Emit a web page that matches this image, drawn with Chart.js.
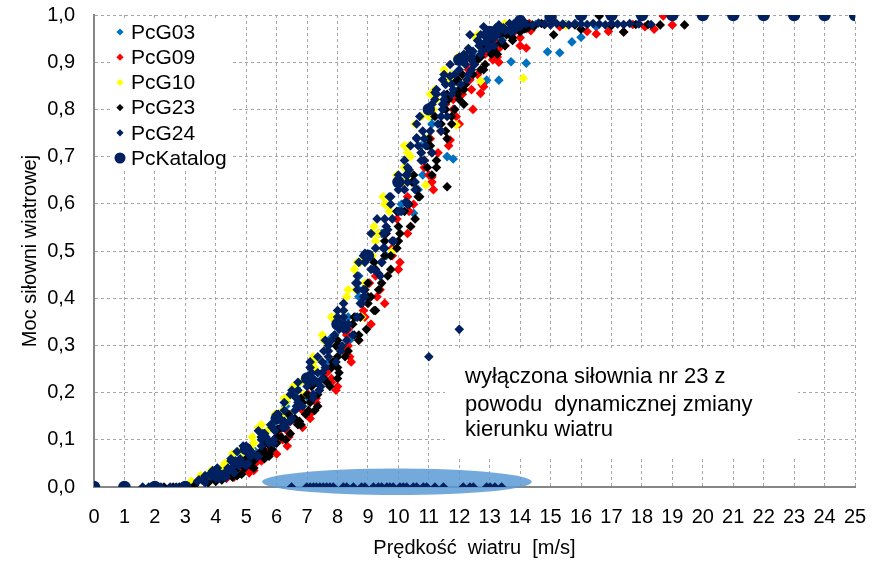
<!DOCTYPE html>
<html>
<head>
<meta charset="utf-8">
<script src="https://cdn.jsdelivr.net/npm/chart.js@4/dist/chart.umd.min.js"></script>
<style>
  html, body { margin: 0; padding: 0; background: #ffffff; }
  #wrap { width: 879px; height: 561px; }
</style>
</head>
<body>
<div id="wrap"><canvas id="c" width="879" height="561"></canvas></div>
<script>
// ---------------- DATA ----------------
const seriesNames = ['PcG03', 'PcG09', 'PcG10', 'PcG23', 'PcG24', 'PcKatalog'];

const pcG03 = [
  [3.9,0.018],[3.9,0.027],[4.8,0.040],[4.65,0.055],[5.25,0.070],[5.85,0.087],[5.5,0.106],[6.2,0.126],
  [6.3,0.145],[6.3,0.171],[7.2,0.196],[7.05,0.222],[7.65,0.253],[8.25,0.288],[7.9,0.322],[8.6,0.360],
  [8.7,0.403],[8.7,0.447],[9.6,0.490],[9.45,0.537],[10.05,0.584],[10.65,0.630],[10.3,0.677],[11.0,0.723],
  [11.1,0.769],[11.1,0.811],[12.0,0.842],[11.85,0.874],[12.45,0.905],[13.05,0.923],[12.7,0.940],[13.4,0.958],
  [13.5,0.969],[13.5,0.976],
  [3.9,0.021],[4.65,0.035],[4.55,0.055],[5.3,0.075],[6.0,0.100],[5.95,0.126],[6.3,0.154],[7.05,0.188],
  [6.95,0.222],[7.7,0.265],[8.4,0.311],[8.35,0.360],[8.7,0.418],[9.45,0.476],[9.35,0.537],[10.1,0.599],
  [10.8,0.661],[10.75,0.723],[11.1,0.785],[11.85,0.832],[11.75,0.874],[12.5,0.911],[13.2,0.935],[13.15,0.958],
  [13.5,0.971],
  [11.6,0.700],[11.8,0.695],[12.9,0.862],[13.3,0.862],[13.7,0.901],[14.2,0.898],[14.9,0.922],[15.3,0.920],
  [15.7,0.943],[16.0,0.953],[10.5,0.580],[6.3,0.180],[6.65,0.210],[4.6,0.057],[7.8,0.316],
  [14.5,0.980],[15.5,0.980],[16.5,0.975],[17.0,0.980]
];

const pcG09 = [
  [4.35,0.018],[4.3,0.024],[5.1,0.030],[4.85,0.040],[5.3,0.050],[5.05,0.060],[6.0,0.070],[5.8,0.080],
  [5.8,0.093],[6.4,0.106],[6.35,0.119],[6.3,0.132],[7.1,0.145],[6.85,0.162],[7.3,0.179],[7.05,0.196],
  [8.0,0.213],[7.8,0.230],[7.8,0.253],[8.4,0.276],[8.35,0.299],[8.3,0.322],[9.1,0.345],[8.85,0.374],
  [9.3,0.403],[9.05,0.432],[10.0,0.461],[9.8,0.490],[9.8,0.521],[10.4,0.552],[10.35,0.584],[10.3,0.615],
  [11.1,0.646],[10.85,0.677],[11.3,0.708],[11.05,0.738],[12.0,0.769],[11.8,0.800],[11.8,0.821],[12.4,0.842],
  [12.35,0.863],[12.3,0.884],[13.1,0.905],[12.85,0.917],[13.3,0.929],[13.05,0.940],[14.0,0.952],[13.8,0.964],
  [13.8,0.969],[14.4,0.973],[14.35,0.978],[14.3,0.982],
  [4.6,0.021],[4.45,0.027],[5.25,0.035],[5.0,0.045],[5.5,0.055],[5.15,0.065],[5.7,0.075],[6.35,0.087],
  [6.2,0.100],[6.05,0.113],[6.85,0.126],[6.6,0.139],[7.1,0.154],[6.75,0.171],[7.3,0.188],[7.95,0.205],
  [7.8,0.222],[7.65,0.242],[8.45,0.265],[8.2,0.288],[8.7,0.311],[8.35,0.334],[8.9,0.360],[9.55,0.389],
  [9.4,0.418],[9.25,0.447],[10.05,0.476],[9.8,0.506],[10.3,0.537],[9.95,0.568],[10.5,0.599],[11.15,0.630],
  [11.0,0.661],[10.85,0.692],[11.65,0.723],[11.4,0.754],[11.9,0.785],[11.55,0.811],[12.1,0.832],[12.75,0.853],
  [12.6,0.874],[12.45,0.895],[13.25,0.911],[13.0,0.923],[13.5,0.935],[13.15,0.946],[13.7,0.958],[14.35,0.967],
  [14.2,0.971],[14.05,0.976],
  [11.1,0.657],[12.45,0.800],[11.7,0.735],[12.7,0.834],[12.8,0.848],[13.3,0.900],[14.2,0.930],[14.0,0.935],
  [14.8,0.980],[15.3,0.975],[15.8,0.980],[16.2,0.965],[16.5,0.960],[16.9,0.965],[17.4,0.964],[17.7,0.980],
  [18.1,0.975],[18.4,0.970],[18.7,0.998],[19.0,0.979]
];

const pcG10 = [
  [3.2,0.012],[3.7,0.018],[3.5,0.024],[4.2,0.030],[4.2,0.040],[4.3,0.050],[4.9,0.060],[4.55,0.070],
  [5.15,0.080],[5.25,0.093],[5.2,0.106],[5.7,0.119],[5.5,0.132],[6.2,0.145],[6.2,0.162],[6.3,0.179],
  [6.9,0.196],[6.55,0.213],[7.15,0.230],[7.25,0.253],[7.2,0.276],[7.7,0.299],[7.5,0.322],[8.2,0.345],
  [8.2,0.374],[8.3,0.403],[8.9,0.432],[8.55,0.461],[9.15,0.490],[9.25,0.521],[9.2,0.552],[9.7,0.584],
  [9.5,0.615],[10.2,0.646],[10.2,0.677],[10.3,0.708],[10.9,0.738],[10.55,0.769],[11.15,0.800],[11.25,0.821],
  [11.2,0.842],[11.7,0.863],[11.5,0.884],[12.2,0.905],[12.2,0.917],[12.3,0.929],[12.9,0.940],[12.55,0.952],
  [13.15,0.964],[13.25,0.969],[13.2,0.973],[13.7,0.978],[13.5,0.982],
  [5.95,0.154],[6.35,0.188],[6.75,0.222],[7.15,0.265],[7.55,0.311],[7.95,0.360],[8.35,0.418],[8.75,0.476],
  [9.15,0.537],[9.55,0.599],[9.95,0.661],[10.35,0.723],[10.75,0.785],[11.15,0.832],[11.55,0.874],[11.95,0.911],
  [3.85,0.035],[4.55,0.055],[4.8,0.075],[5.55,0.100],[5.4,0.126],[6.2,0.154],[6.25,0.188],[6.95,0.222],
  [7.2,0.265],[7.95,0.311],[7.8,0.360],[8.6,0.418],[8.65,0.476],[9.35,0.537],[9.6,0.599],[10.35,0.661],
  [10.2,0.723],[11.0,0.785],[11.05,0.832],[11.75,0.874],[12.0,0.911],[12.75,0.935],[12.6,0.958],[13.4,0.971],
  [14.0,0.982],[14.4,0.980],[15.0,0.982],[15.5,0.978],[14.1,0.866],
  [11.9,0.767],[10.9,0.640],[9.8,0.500],[8.8,0.360],[12.7,0.860],[10.4,0.700]
];

const pcG23 = [
  [4.0,0.012],[3.95,0.018],[4.7,0.024],[4.5,0.030],[5.25,0.040],[5.1,0.050],[5.0,0.060],[5.75,0.070],
  [5.55,0.080],[6.0,0.093],[6.0,0.106],[5.95,0.119],[6.7,0.132],[6.5,0.145],[7.25,0.162],[7.1,0.179],
  [7.0,0.196],[7.75,0.213],[7.55,0.230],[8.0,0.253],[8.0,0.276],[7.95,0.299],[8.7,0.322],[8.5,0.345],
  [9.25,0.374],[9.1,0.403],[9.0,0.432],[9.75,0.461],[9.55,0.490],[10.0,0.521],[10.0,0.552],[9.95,0.584],
  [10.7,0.615],[10.5,0.646],[11.25,0.677],[11.1,0.708],[11.0,0.738],[11.75,0.769],[11.55,0.800],[12.0,0.821],
  [12.0,0.842],[11.95,0.863],[12.7,0.884],[12.5,0.905],[13.25,0.917],[13.1,0.929],[13.0,0.940],[13.75,0.952],
  [13.55,0.964],[14.0,0.969],[14.0,0.973],[13.95,0.978],[14.7,0.982],
  [3.75,0.009],[4.55,0.021],[4.4,0.035],[5.25,0.055],[5.5,0.075],[6.3,0.100],[6.15,0.126],[6.95,0.154],
  [6.8,0.188],[7.65,0.222],[7.9,0.265],[8.7,0.311],[8.55,0.360],[9.35,0.418],[9.2,0.476],[10.05,0.537],
  [10.3,0.599],[11.1,0.661],[10.95,0.723],[11.75,0.785],[11.6,0.832],[12.45,0.874],[12.7,0.911],[13.5,0.935],
  [13.35,0.958],[14.15,0.971],[14.0,0.980],
  [4.2,0.015],[4.1,0.021],[4.85,0.027],[4.65,0.035],[5.15,0.045],[4.8,0.055],[5.75,0.065],[5.55,0.075],
  [5.8,0.087],[5.7,0.100],[6.45,0.113],[6.25,0.126],[6.75,0.139],[6.4,0.154],[7.35,0.171],[7.15,0.188],
  [7.4,0.205],[7.3,0.222],[8.05,0.242],[7.85,0.265],[8.35,0.288],[8.0,0.311],[8.95,0.334],[8.75,0.360],
  [9.0,0.389],[8.9,0.418],[9.65,0.447],[9.45,0.476],[9.95,0.506],[9.6,0.537],[10.55,0.568],[10.35,0.599],
  [10.6,0.630],[10.5,0.661],[11.25,0.692],[11.05,0.723],[11.55,0.754],[11.2,0.785],[12.15,0.811],[11.95,0.832],
  [12.2,0.853],[12.1,0.874],[12.85,0.895],[12.65,0.911],[13.15,0.923],[12.8,0.935],[13.75,0.946],[13.55,0.958],
  [13.8,0.967],[13.7,0.971],[14.45,0.976],[14.25,0.980],
  [4.45,0.030],[4.95,0.040],[4.75,0.050],[5.6,0.060],[5.4,0.070],[5.85,0.080],[5.65,0.093],[6.15,0.106],
  [6.05,0.122],[6.8,0.132],[6.6,0.145],[7.05,0.162],[6.85,0.179],[7.35,0.196],[7.15,0.213],[8.0,0.230],
  [7.8,0.253],[8.25,0.276],[8.05,0.299],[8.55,0.322],[8.35,0.345],[9.2,0.374],[9.0,0.403],[9.45,0.432],
  [9.25,0.461],[9.75,0.490],[9.55,0.521],[10.4,0.552],[10.2,0.584],[10.65,0.615],[10.45,0.646],[10.95,0.677],
  [10.75,0.708],[11.6,0.738],[11.4,0.769],[11.85,0.800],[11.65,0.821],[12.15,0.842],[11.9,0.860],[12.8,0.884],
  [12.6,0.905],[13.05,0.917],[12.85,0.929],[13.35,0.940],[13.15,0.952],[14.0,0.964],[13.8,0.969],[14.25,0.973],
  [11.6,0.636],[1.9,0],[2.3,0],[2.6,0],[2.8,0],[3.1,0],[3.3,0.003],
  [14.3,0.978],[14.8,0.980],[15.1,0.958],[15.4,0.980],[15.8,0.979],[16.0,0.970],[16.6,0.998],[17.0,0.978],
  [17.4,0.964],[17.8,0.980],[18.2,0.980],[18.6,0.979],[19.4,0.979]
];

const pcG24 = [
  [3.4,0.012],[4.0,0.018],[3.65,0.024],[4.6,0.030],[4.4,0.040],[4.9,0.050],[4.5,0.060],[5.1,0.070],
  [5.1,0.080],[5.9,0.093],[5.65,0.106],[5.4,0.119],[6.25,0.132],[6.0,0.145],[6.6,0.162],[6.25,0.179],
  [7.2,0.196],[7.0,0.213],[7.5,0.230],[7.1,0.253],[7.7,0.276],[7.7,0.299],[8.5,0.322],[8.25,0.345],
  [8.0,0.374],[8.85,0.403],[8.6,0.432],[9.2,0.461],[8.85,0.490],[9.8,0.521],[9.6,0.552],[10.1,0.584],
  [9.7,0.615],[10.3,0.646],[10.3,0.677],[11.1,0.708],[10.85,0.738],[10.6,0.769],[11.45,0.800],[11.2,0.821],
  [11.8,0.842],[11.45,0.863],[12.4,0.884],[12.2,0.905],[12.7,0.917],[12.3,0.929],[12.9,0.940],[12.9,0.952],
  [13.7,0.964],[13.45,0.969],[13.2,0.973],[14.05,0.978],[13.8,0.982],
  [3.65,0.009],[3.45,0.015],[4.25,0.021],[4.05,0.027],[3.9,0.035],[4.6,0.045],[4.55,0.055],[5.35,0.065],
  [5.1,0.075],[5.0,0.087],[5.7,0.100],[5.6,0.113],[6.2,0.126],[6.25,0.139],[6.05,0.154],[6.85,0.171],
  [6.65,0.188],[6.5,0.205],[7.2,0.222],[7.15,0.242],[7.95,0.265],[7.7,0.288],[7.6,0.311],[8.3,0.334],
  [8.2,0.360],[8.8,0.389],[8.85,0.418],[8.65,0.447],[9.45,0.476],[9.25,0.506],[9.1,0.537],[9.8,0.568],
  [9.75,0.599],[10.55,0.630],[10.3,0.661],[10.2,0.692],[10.9,0.723],[10.8,0.754],[11.4,0.785],[11.45,0.811],
  [11.25,0.832],[12.05,0.853],[11.85,0.874],[11.7,0.895],[12.4,0.911],[12.35,0.923],[13.15,0.935],[12.9,0.946],
  [12.8,0.958],[13.5,0.967],[13.4,0.971],[14.0,0.976],[14.05,0.980],
  [3.65,0.015],[4.3,0.021],[3.8,0.027],[4.45,0.035],[5.0,0.045],[4.5,0.055],[5.15,0.065],[5.15,0.075],
  [4.9,0.087],[5.9,0.100],[5.6,0.113],[5.85,0.126],[6.45,0.139],[6.0,0.154],[6.65,0.171],[7.2,0.188],
  [6.7,0.205],[7.35,0.222],[7.35,0.242],[7.1,0.265],[8.1,0.288],[7.8,0.311],[8.05,0.334],[8.65,0.360],
  [8.2,0.389],[8.85,0.418],[9.4,0.447],[8.9,0.476],[9.55,0.506],[9.55,0.537],[9.3,0.568],[10.3,0.599],
  [10.0,0.630],[10.25,0.661],[10.85,0.692],[10.4,0.723],[11.05,0.754],[11.6,0.785],[11.1,0.811],[11.75,0.832],
  [11.75,0.853],[11.5,0.874],[12.5,0.895],[12.2,0.911],[12.45,0.923],[13.05,0.935],[12.6,0.946],[13.25,0.958],
  [13.8,0.967],[13.3,0.971],[13.95,0.976],[13.95,0.980],
  [4.1,0.018],[3.85,0.024],[4.3,0.030],[4.05,0.040],[5.05,0.050],[4.8,0.060],[5.2,0.070],[4.95,0.080],
  [5.75,0.093],[5.5,0.106],[5.95,0.119],[5.8,0.132],[6.5,0.145],[6.25,0.162],[6.7,0.179],[6.45,0.196],
  [7.45,0.213],[7.2,0.230],[7.6,0.253],[7.35,0.276],[8.15,0.299],[7.9,0.322],[8.35,0.345],[8.2,0.374],
  [8.9,0.403],[8.65,0.432],[9.1,0.461],[8.9,0.495],[9.85,0.521],[9.65,0.545],[10.0,0.584],[9.75,0.615],
  [10.55,0.646],[10.35,0.672],[10.75,0.708],[10.6,0.738],[11.3,0.769],[11.05,0.800],[11.5,0.821],[11.25,0.842],
  [12.25,0.863],[12.0,0.884],[12.4,0.905],[12.15,0.917],[12.95,0.929],[12.7,0.940],[13.15,0.952],[13.0,0.964],
  [13.7,0.969],[13.45,0.973],[13.9,0.978],[13.65,0.982],
  [3.55,0.015],[4.35,0.021],[4.2,0.027],[4.0,0.035],[4.75,0.045],[4.65,0.055],[5.4,0.065],[4.7,0.075],
  [5.5,0.087],[5.5,0.100],[5.55,0.113],[6.3,0.126],[6.2,0.139],[6.05,0.150],[6.75,0.171],[6.6,0.192],
  [7.4,0.205],[6.7,0.222],[7.5,0.242],[7.5,0.265],[7.55,0.288],[8.3,0.311],[8.2,0.334],[8.0,0.360],
  [8.75,0.389],[8.65,0.418],[9.35,0.452],[8.7,0.476],[9.5,0.506],[9.5,0.537],[9.55,0.568],[10.25,0.605],
  [10.2,0.630],[10.0,0.661],[10.75,0.692],[10.65,0.723],[11.4,0.754],[10.7,0.785],[11.5,0.811],[11.5,0.832],
  [11.55,0.853],[12.3,0.874],[12.2,0.895],[12.0,0.911],[12.75,0.923],[12.65,0.935],[13.4,0.946],[12.7,0.958],
  [13.5,0.967],[13.5,0.971],
  [12.35,0.958],[11.7,0.870],[11.2,0.836],[13.3,0.979],[12.8,0.975],[10.6,0.740],
  [14.2,0.981],[14.4,0.979],[14.6,0.983],[14.8,0.981],[15.0,0.979],[15.2,0.982],[15.4,0.981],[15.6,0.979],
  [15.8,0.982],[16.0,0.981],[16.2,0.980],[16.4,0.982],[16.6,0.981],[16.8,0.979],[17.0,0.982],[17.2,0.981],
  [17.4,0.980],[17.6,0.982],[17.9,0.981],[18.3,0.980],
  [1.6,0],[1.8,0],[2.0,0],[2.2,0],[2.5,0],[2.7,0],[2.9,0],
  [11.0,0.276],[12.0,0.334],
  [6.49,0],[6.99,0],[7.10,0],[7.21,0],[7.31,0],[7.42,0],[7.53,0],[7.64,0],[7.75,0],[7.86,0],
  [8.19,0],[8.30,0],[8.52,0],[8.79,0],[8.90,0],[9.18,0],[9.34,0],[9.45,0],[9.62,0],[9.72,0],
  [9.83,0],[10.05,0],[10.16,0],[10.27,0],[10.49,0],[10.60,0],[10.82,0],[10.93,0],[11.20,0],[11.48,0],
  [12.13,0],[12.35,0],[12.46,0],[12.90,0],[13.01,0],[13.17,0],[13.39,0]
];

const pcKatalogX = [0,1,2,3,4,5,6,7,8,9,10,11,12,13,14,15,16,17,18,19,20,21,22,23,24,25];
const pcKatalogY = [0,0,0,0,0.03,0.08,0.145,0.23,0.345,0.49,0.646,0.80,0.905,0.964,0.987,0.996,1,1,1,1,1,1,1,1,1,1];

const xTicks = [0,1,2,3,4,5,6,7,8,9,10,11,12,13,14,15,16,17,18,19,20,21,22,23,24,25];
const yTickLabels = ['0,0','0,1','0,2','0,3','0,4','0,5','0,6','0,7','0,8','0,9','1,0'];

const xTitle = 'Prędkość  wiatru  [m/s]';
const yTitle = 'Moc siłowni wiatrowej';
const noteLines = ['wyłączona siłownia nr 23 z', 'powodu  dynamicznej zmiany', 'kierunku wiatru'];

// ---------------- STYLE / LAYOUT ----------------
const colors = ['#0070C0', '#FF0000', '#FFFF00', '#000000', '#002060', '#002060'];
const FONT = "'Liberation Sans', Arial, sans-serif";

// annotation placement in data units
const noteBox = { x0: 11.53, x1: 23.13, y0: 0.064, y1: 0.292 };
const noteText = { x: 12.19, y: [0.233, 0.174, 0.121] };
const ellipse = { cx: 9.95, cy: 0.011, rx: 4.43, ry: 0.028 };

const toPts = arr => arr.map(p => ({ x: p[0], y: p[1] }));
const katalogPts = pcKatalogX.map((x, i) => ({ x: x, y: pcKatalogY[i] }));
const seriesData = [pcG03, pcG09, pcG10, pcG23, pcG24].map(toPts).concat([katalogPts]);

const datasets = seriesNames.map((name, i) => ({
  label: name,
  data: seriesData[i],
  showLine: false,
  backgroundColor: colors[i],
  borderColor: colors[i],
  pointStyle: i === 5 ? 'circle' : 'rectRot',
  pointRadius: i === 5 ? 6.2 : 4.8,
  pointBorderWidth: 0,
  pointHoverRadius: i === 5 ? 6.2 : 4.8,
  order: 6 - i
}));

const bgPlugin = {
  id: 'bgAnnot',
  beforeDatasetsDraw(chart) {
    const { ctx, scales: { x, y }, chartArea: ca } = chart;
    ctx.save();
    ctx.fillStyle = '#ffffff';
    const bx0 = x.getPixelForValue(noteBox.x0), bx1 = x.getPixelForValue(noteBox.x1);
    const by0 = y.getPixelForValue(noteBox.y1), by1 = y.getPixelForValue(noteBox.y0);
    ctx.fillRect(bx0, by0, bx1 - bx0, by1 - by0);
    ctx.fillRect(ca.left + 19, ca.top + 3, 119, 150);
    const ecx = x.getPixelForValue(ellipse.cx), ecy = y.getPixelForValue(ellipse.cy);
    const erx = x.getPixelForValue(ellipse.cx + ellipse.rx) - ecx;
    const ery = ecy - y.getPixelForValue(ellipse.cy + ellipse.ry);
    ctx.beginPath();
    ctx.ellipse(ecx, ecy, erx, ery, 0, 0, Math.PI * 2);
    ctx.fillStyle = 'rgba(91,155,213,0.85)';
    ctx.fill();
    ctx.restore();
  },
  afterDatasetsDraw(chart) {
    const { ctx, scales: { x, y }, chartArea: ca } = chart;
    ctx.save();
    ctx.fillStyle = '#000000';
    ctx.font = '22px ' + FONT;
    ctx.textAlign = 'left';
    ctx.textBaseline = 'middle';
    noteLines.forEach((t, i) => {
      ctx.fillText(t, x.getPixelForValue(noteText.x), y.getPixelForValue(noteText.y[i]));
    });
    ctx.font = '21px ' + FONT;
    chart.data.datasets.forEach((ds, i) => {
      const cy = ca.top + 17 + i * 25.2;
      const mx = ca.left + 26;
      ctx.fillStyle = ds.backgroundColor;
      ctx.beginPath();
      if (ds.pointStyle === 'circle') {
        ctx.arc(mx, cy, 5.5, 0, Math.PI * 2);
      } else {
        const r = 3.6;
        ctx.moveTo(mx, cy - r); ctx.lineTo(mx + r, cy); ctx.lineTo(mx, cy + r); ctx.lineTo(mx - r, cy);
        ctx.closePath();
      }
      ctx.fill();
      ctx.fillStyle = '#000000';
      ctx.fillText(ds.label, ca.left + 37, cy + 1);
    });
    ctx.restore();
  }
};

const gridColor = '#A6A6A6';
const axisColor = '#868686';

new Chart(document.getElementById('c'), {
  type: 'scatter',
  data: { datasets: datasets },
  options: {
    responsive: false,
    devicePixelRatio: 1,
    animation: false,
    events: [],
    layout: { padding: { left: 14, right: 24, top: 15, bottom: 0 } },
    plugins: { legend: { display: false }, tooltip: { enabled: false } },
    scales: {
      x: {
        type: 'linear',
        min: 0, max: 25,
        afterBuildTicks: s => { s.ticks = xTicks.map(v => ({ value: v })); },
        afterFit: s => { s.height = 74; s.paddingLeft = 0; s.paddingRight = 0; },
        ticks: { autoSkip: false, maxRotation: 0, color: '#000000', padding: 18,
                 font: { family: FONT, size: 20 } },
        grid: { color: gridColor, lineWidth: 1, drawTicks: false },
        border: { display: true, color: axisColor, width: 2, dash: [3, 3] },
        title: { display: true, text: xTitle, color: '#000000', padding: { top: 0, bottom: 1 },
                 font: { family: FONT, size: 20 } }
      },
      y: {
        type: 'linear',
        min: 0, max: 1,
        afterBuildTicks: s => { s.ticks = yTickLabels.map((t, i) => ({ value: i / 10 })); },
        afterFit: s => { s.width = 80; s.paddingTop = 0; s.paddingBottom = 0; },
        ticks: { color: '#000000', padding: 19, font: { family: FONT, size: 20 },
                 callback: (v, i) => yTickLabels[i] },
        grid: { color: gridColor, lineWidth: 1, drawTicks: false },
        border: { display: true, color: axisColor, width: 2, dash: [3, 3] },
        title: { display: true, text: yTitle, color: '#000000', padding: { top: 4, bottom: 0 },
                 font: { family: FONT, size: 20 } }
      }
    }
  },
  plugins: [bgPlugin]
});
</script>
</body>
</html>
